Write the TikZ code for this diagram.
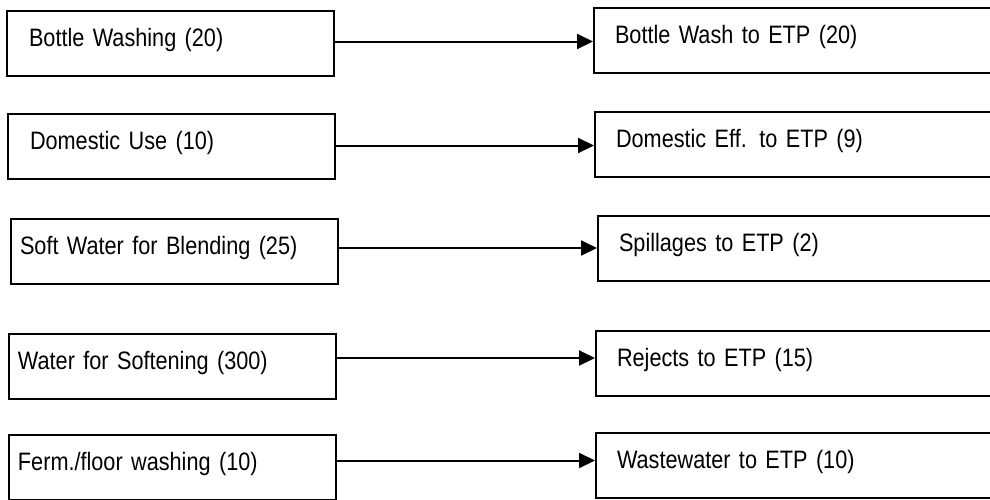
\documentclass[tikz,border=0pt]{standalone}
\usepackage{fontspec}
\setmainfont{Liberation Sans}[FakeStretch=0.86]
\usetikzlibrary{arrows.meta}
\newcommand\stagefont{\fontsize{12.6}{15}\selectfont\spaceskip=0.21em\relax}

\begin{document}
\begin{tikzpicture}[x=0.5pt, y=-0.5pt,
    stage/.style={draw, line width=1pt, anchor=north west, align=left,
        inner ysep=0pt, text height=17.5pt, text depth=15pt,
        font=\stagefont},
    source/.style={stage, inner xsep=11pt, text width=141.5pt},
    sourcetight/.style={stage, inner xsep=4.5pt, text width=154.5pt},
    sink/.style={stage, inner xsep=10.5pt, text width=229pt},
    flow/.style={-{Triangle[length=8pt, width=7.5pt]}, line width=1pt}]
    % Page frame, right-hand boxes run off the edge
    \clip (0,0) rectangle (990,499);

    % Water uses (left column)
    \node[source] (bottle) at (6,10) {Bottle Washing (20)};
    \node[source] (domestic) at (7,113) {Domestic Use (10)};
    \node[sourcetight] (blending) at (10,218) {Soft Water for Blending (25)};
    \node[sourcetight] (softening) at (8,333) {Water for Softening (300)};
    \node[sourcetight] (floor) at (8,434) {Ferm./floor washing (10)};

    % Effluents to ETP (right column)
    \node[sink] (bottleetp) at (593,7) {Bottle Wash to ETP (20)};
    \node[sink] (domesticetp) at (594,111) {Domestic Eff. to ETP (9)};
    \node[sink] (spill) at (597,215) {Spillages to ETP (2)};
    \node[sink] (rejects) at (595,330) {Rejects to ETP (15)};
    \node[sink] (waste) at (595,432) {Wastewater to ETP (10)};

    % Connectors
    \foreach \src/\dst/\lift in {bottle/bottleetp/1pt, domestic/domesticetp/0.5pt,
        blending/spill/1.75pt, softening/rejects/4.25pt, floor/waste/3.5pt}
        \draw[flow] ([yshift=\lift]\src.east) -- ([yshift=\lift]\src.east -| \dst.west);
\end{tikzpicture}
\end{document}
